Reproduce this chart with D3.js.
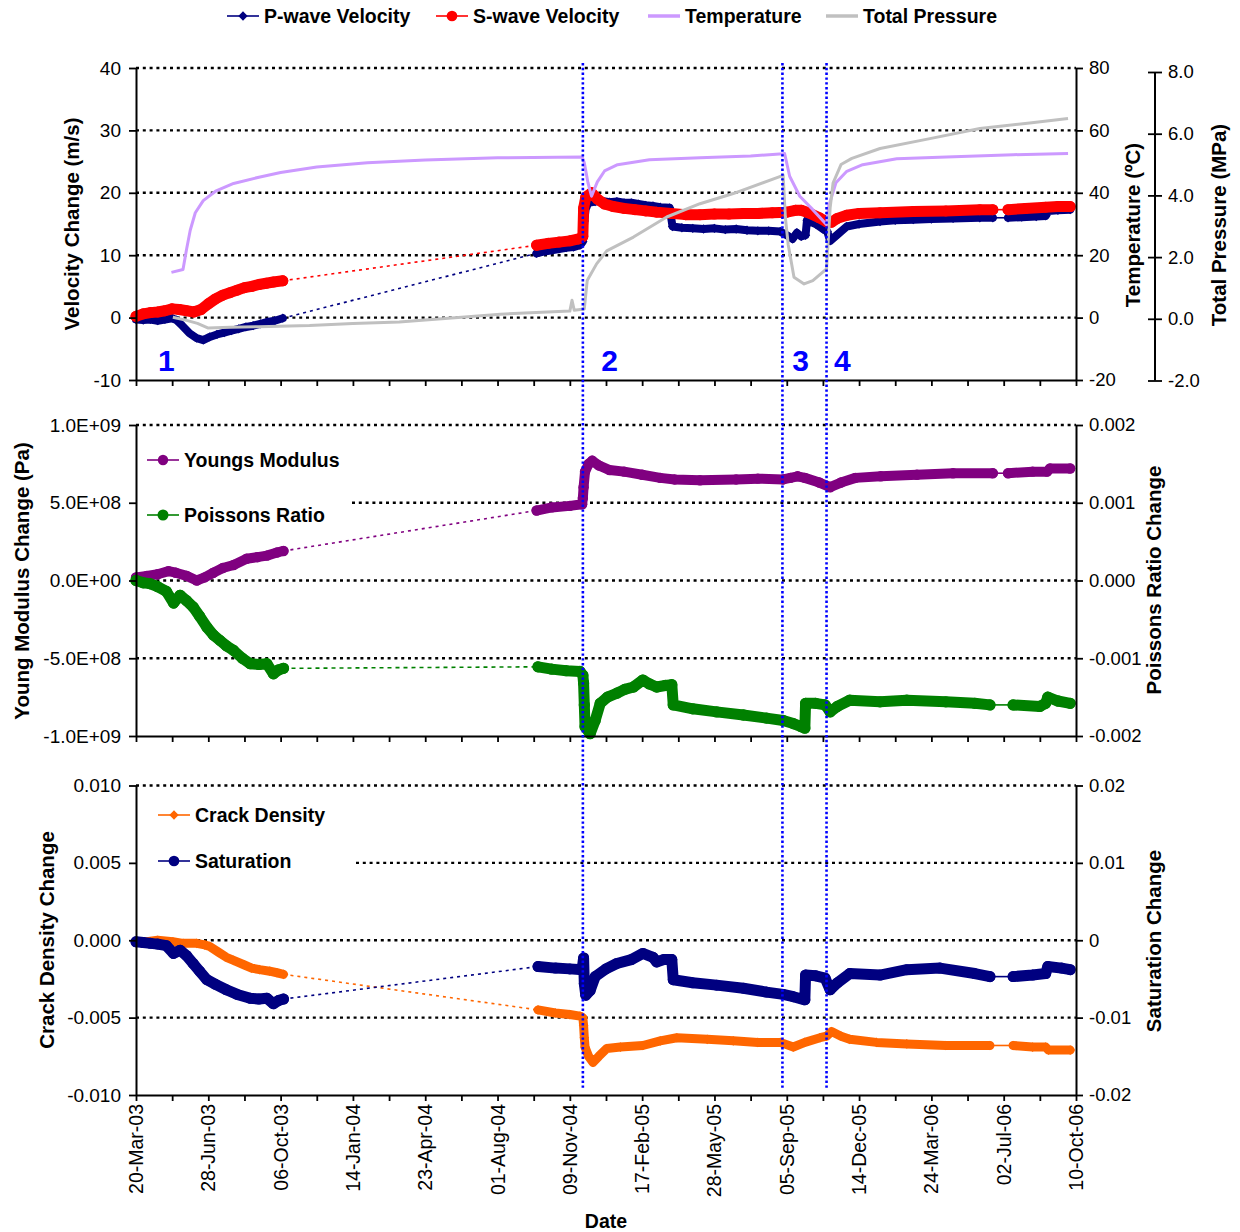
<!DOCTYPE html>
<html>
<head>
<meta charset="utf-8">
<script src="https://cdn.jsdelivr.net/npm/d3@7"></script>
<style>
  body { margin: 0; background: #fff; }
  text { font-family: Arial, "Liberation Sans", sans-serif; fill: #000; }
</style>
</head>
<body>
<svg id="chart" width="1240" height="1232"></svg>
<script>
// ---- data: [days since 20-Mar-03, value] ----
const START = new Date(2003, 2, 20);

const pWaveA = [[0,-0.3],[10,-0.4],[20,-0.3],[30,-0.5],[40,-0.3],[50,-0.1],[56,-0.4],[64,-1.3],[74,-2.5],[84,-3.3],[93,-3.6],[102,-3.1],[112,-2.7],[122,-2.4],[132,-2.1],[142,-1.8],[152,-1.5],[162,-1.3],[172,-1.0],[182,-0.7],[192,-0.5],[203,-0.1]];
const pWaveB = [[554,10.3],[565,10.6],[575,10.8],[585,11.0],[595,11.2],[605,11.3],[614,11.6],[618,12.2],[620,15.5],[622,17.5],[626,18.4],[635,18.6],[645,18.7],[655,18.5],[665,18.6],[675,18.4],[685,18.4],[695,18.2],[705,18.0],[715,17.9],[725,17.7],[738,17.6],[742,14.6],[755,14.4],[770,14.3],[785,14.2],[800,14.3],[815,14.1],[830,14.2],[845,14.0],[860,13.9],[875,13.9],[891,13.8],[900,13.2],[908,12.6],[914,13.6],[920,13.0],[926,13.2],[928,15.6],[940,15.0],[950,14.2],[956,13.8],[960,12.3],[970,13.3],[983,14.6],[1000,15.0],[1029,15.4],[1050,15.6],[1075,15.7],[1100,15.8],[1130,15.9],[1167,16.0],[1185,16.0]];
const pWaveC = [[1206,16.0],[1225,16.1],[1245,16.2],[1258,16.3],[1262,17.1],[1275,17.2],[1292,17.3]];

const sWaveA = [[0,0.2],[10,0.6],[20,0.8],[30,0.9],[40,1.1],[50,1.4],[60,1.3],[70,1.1],[80,0.9],[90,1.3],[100,2.2],[110,3.0],[120,3.6],[130,4.0],[140,4.4],[150,4.8],[160,5.0],[170,5.3],[180,5.5],[190,5.7],[203,5.9]];
const sWaveB = [[554,11.6],[570,11.9],[585,12.1],[600,12.3],[612,12.6],[618,13.0],[619,17.5],[622,19.3],[630,20.0],[638,19.0],[648,18.2],[660,17.8],[675,17.5],[690,17.3],[705,17.1],[720,16.9],[740,16.7],[760,16.5],[780,16.5],[800,16.6],[820,16.6],[840,16.7],[860,16.7],[880,16.8],[900,16.9],[912,17.2],[920,17.2],[930,16.8],[945,16.0],[956,15.3],[962,15.3],[970,15.9],[983,16.4],[1000,16.7],[1029,16.8],[1075,17.0],[1120,17.1],[1167,17.3],[1185,17.3]];
const sWaveC = [[1206,17.3],[1230,17.5],[1258,17.7],[1275,17.8],[1292,17.8]];

const temperature = [[49,14.5],[65,15.4],[70,22],[75,28],[82,33.6],[93,37.5],[110,40.5],[135,43],[170,45],[200,46.5],[250,48.3],[320,49.6],[400,50.5],[500,51.2],[617,51.5],[620,49.6],[625,43.3],[630,38.9],[638,43.5],[648,47],[666,49],[710,50.6],[780,51.2],[850,51.8],[895,52.5],[897,52.6],[904,45.3],[918,38.9],[936,34.6],[955,29.8],[958,35.7],[968,43.2],[983,46.9],[1005,49],[1052,50.9],[1121,51.5],[1213,52.2],[1289,52.6]];

const pressure = [[51,0.05],[70,-0.05],[85,-0.15],[100,-0.3],[130,-0.27],[170,-0.26],[240,-0.22],[300,-0.15],[364,-0.1],[450,0.05],[504,0.15],[600,0.25],[603,0.6],[606,0.28],[620,0.32],[624,1.24],[637,1.78],[651,2.2],[688,2.65],[734,3.3],[780,3.73],[826,4.06],[895,4.65],[898,3.3],[902,2.4],[910,1.35],[924,1.13],[936,1.24],[955,1.62],[958,2.8],[960,3.6],[964,4.4],[975,5.0],[990,5.2],[1029,5.52],[1098,5.84],[1167,6.17],[1236,6.35],[1289,6.49]];

const youngA = [[0,0.02e9],[15,0.03e9],[30,0.04e9],[45,0.06e9],[55,0.05e9],[70,0.03e9],[84,0.0],[95,0.02e9],[107,0.05e9],[120,0.08e9],[135,0.1e9],[153,0.14e9],[168,0.15e9],[181,0.16e9],[195,0.18e9],[204,0.19e9]];
const youngB = [[554,0.45e9],[575,0.47e9],[600,0.48e9],[617,0.49e9],[618,0.53e9],[619,0.6e9],[621,0.7e9],[626,0.75e9],[631,0.77e9],[640,0.74e9],[655,0.71e9],[675,0.70e9],[700,0.68e9],[725,0.66e9],[745,0.65e9],[780,0.645e9],[830,0.65e9],[860,0.655e9],[895,0.65e9],[905,0.66e9],[915,0.67e9],[925,0.66e9],[945,0.63e9],[960,0.6e9],[975,0.63e9],[995,0.66e9],[1030,0.67e9],[1080,0.68e9],[1130,0.69e9],[1185,0.69e9]];
const youngC = [[1206,0.69e9],[1240,0.70e9],[1260,0.70e9],[1264,0.72e9],[1292,0.72e9]];

const poissonA = [[0,0],[10,-0.00003],[19,-0.00004],[30,-0.00008],[42,-0.00014],[52,-0.00029],[61,-0.00019],[70,-0.00026],[79,-0.00034],[88,-0.00046],[98,-0.0006],[107,-0.0007],[116,-0.00077],[125,-0.00084],[135,-0.0009],[147,-0.001],[158,-0.00107],[170,-0.00108],[181,-0.00107],[190,-0.0012],[197,-0.00115],[204,-0.00113]];
const poissonB = [[556,-0.00111],[575,-0.00114],[595,-0.00116],[614,-0.00117],[618,-0.00122],[619,-0.00132],[620,-0.0016],[621,-0.00188],[628,-0.00197],[635,-0.0018],[642,-0.00158],[652,-0.0015],[665,-0.00145],[676,-0.0014],[688,-0.00137],[701,-0.00128],[710,-0.00133],[720,-0.00137],[732,-0.00135],[741,-0.00134],[743,-0.0016],[770,-0.00165],[803,-0.00169],[840,-0.00173],[872,-0.00177],[895,-0.0018],[909,-0.00184],[920,-0.00188],[925,-0.0019],[926,-0.00158],[940,-0.00158],[953,-0.0016],[960,-0.00169],[970,-0.00162],[987,-0.00154],[1029,-0.00156],[1066,-0.00154],[1120,-0.00156],[1160,-0.00158],[1181,-0.0016]];
const poissonC = [[1213,-0.0016],[1250,-0.00162],[1258,-0.00158],[1261,-0.0015],[1275,-0.00155],[1292,-0.00158]];

const crackA = [[0,-0.0001],[15,-0.0001],[30,0.0],[51,-0.0001],[65,-0.0002],[84,-0.0002],[95,-0.0003],[102,-0.0004],[115,-0.0008],[125,-0.0011],[135,-0.0013],[150,-0.0016],[160,-0.0018],[171,-0.0019],[185,-0.002],[195,-0.0021],[204,-0.0022]];
const crackB = [[556,-0.0045],[580,-0.0047],[600,-0.0048],[614,-0.0049],[618,-0.005],[619,-0.0055],[620,-0.0063],[621,-0.0069],[626,-0.0075],[632,-0.0079],[640,-0.0075],[651,-0.007],[670,-0.0069],[701,-0.0068],[725,-0.0065],[748,-0.0063],[790,-0.0064],[826,-0.0065],[860,-0.0066],[891,-0.0066],[909,-0.0069],[925,-0.0066],[946,-0.0063],[955,-0.0062],[962,-0.0059],[975,-0.0062],[987,-0.0064],[1024,-0.0066],[1066,-0.0067],[1120,-0.0068],[1181,-0.0068]];
const crackC = [[1213,-0.0068],[1240,-0.0069],[1258,-0.0069],[1262,-0.0071],[1292,-0.0071]];

const satA = [[0,-0.0002],[10,-0.0003],[20,-0.0004],[30,-0.0005],[42,-0.0007],[52,-0.0017],[61,-0.0013],[70,-0.002],[79,-0.003],[88,-0.004],[98,-0.0051],[110,-0.0057],[125,-0.0064],[140,-0.007],[158,-0.0075],[170,-0.0076],[181,-0.0075],[190,-0.0082],[197,-0.0078],[204,-0.0076]];
const satB = [[556,-0.0034],[580,-0.0036],[600,-0.0037],[617,-0.0038],[619,-0.0023],[620,-0.0056],[622,-0.0071],[628,-0.0065],[635,-0.0047],[650,-0.0037],[665,-0.003],[685,-0.0025],[701,-0.0017],[715,-0.0022],[720,-0.0028],[730,-0.0025],[741,-0.0025],[743,-0.0051],[770,-0.0055],[803,-0.0058],[840,-0.0062],[872,-0.0067],[895,-0.007],[909,-0.0073],[925,-0.0077],[926,-0.0045],[940,-0.0046],[953,-0.0049],[960,-0.0064],[970,-0.0055],[987,-0.0043],[1029,-0.0045],[1066,-0.0038],[1112,-0.0036],[1160,-0.0043],[1181,-0.0047]];
const satC = [[1213,-0.0047],[1240,-0.0045],[1258,-0.0043],[1261,-0.0034],[1280,-0.0036],[1292,-0.0038]];

// event markers (days) and their labels
const eventDays = [618, 894, 955];
const eventLabels = [["1", 42], ["2", 655], ["3", 919], ["4", 977]];

// tick values
const velTicks = [-10, 0, 10, 20, 30, 40];
const tempTicks = [-20, 0, 20, 40, 60, 80];
const presTicks = [-2, 0, 2, 4, 6, 8];
const youngTicks = [-1e9, -5e8, 0, 5e8, 1e9];
const poisTicks = [-0.002, -0.001, 0, 0.001, 0.002];
const crackTicks = [-0.01, -0.005, 0, 0.005, 0.01];
const satTicks = [-0.02, -0.01, 0, 0.01, 0.02];
const dateTickDays = d3.range(0, 1301, 100);
const minorTickDays = d3.range(0, 1301, 50);

// plain hyphen for negative numbers, as in the original
d3.formatDefaultLocale({ decimal: ".", thousands: ",", grouping: [3], currency: ["$", ""], minus: "-" });

// ---- setup ----
const svg = d3.select("#chart");
const day = d => d3.timeDay.offset(START, d);
const x = d3.scaleTime().domain([START, day(1300)]).range([136, 1076]);
const X0 = 136, X1 = 1076;

const yVel = d3.scaleLinear().domain([-10, 40]).range([380, 68]);
const yTemp = d3.scaleLinear().domain([-20, 80]).range([380, 68]);
const yPres = d3.scaleLinear().domain([-2, 8]).range([380.5, 72]);
const yYoung = d3.scaleLinear().domain([-1e9, 1e9]).range([736, 425]);
const yPois = d3.scaleLinear().domain([-0.002, 0.002]).range([736, 425]);
const yCrack = d3.scaleLinear().domain([-0.01, 0.01]).range([1095, 785.5]);
const ySat = d3.scaleLinear().domain([-0.02, 0.02]).range([1095, 785.5]);

const NAVY = "#000080", RED = "#ff0000", LAV = "#cc99ff", GRAY = "#c0c0c0";
const PURPLE = "#800080", GREEN = "#008000", ORANGE = "#ff6600", BLUE = "#0000ff";

function grid(yS, vals, fromX) {
  svg.append("g").selectAll("line").data(vals).join("line")
    .attr("x1", fromX || X0).attr("x2", X1)
    .attr("y1", d => yS(d)).attr("y2", d => yS(d))
    .attr("stroke", "#000").attr("stroke-width", 2.4)
    .attr("stroke-dasharray", "3,3.8");
}

function styleAxis(g, fs) {
  g.select(".domain").attr("stroke", "#000").attr("stroke-width", 2);
  g.selectAll(".tick line").attr("stroke", "#000").attr("stroke-width", 1.8);
  g.selectAll("text").style("font-size", fs + "px").attr("fill", "#000");
}

function leftAxis(yS, vals, fmt) {
  const g = svg.append("g").attr("transform", `translate(${X0},0)`)
    .call(d3.axisLeft(yS).tickValues(vals).tickSize(7).tickSizeOuter(0).tickPadding(8).tickFormat(fmt));
  styleAxis(g, 19);
}

function rightAxis(yS, vals, fmt, xPos) {
  const g = svg.append("g").attr("transform", `translate(${xPos},0)`)
    .call(d3.axisRight(yS).tickValues(vals).tickSize(7).tickSizeOuter(0).tickPadding(6).tickFormat(fmt));
  styleAxis(g, 18.5);
  return g;
}

function bottomAxis(yPos) {
  const g = svg.append("g").attr("transform", `translate(0,${yPos})`)
    .call(d3.axisBottom(x).tickValues(minorTickDays.map(day)).tickSize(6).tickSizeOuter(0).tickFormat(""));
  styleAxis(g, 19);
}

function title(txt, bx, cy) {
  svg.append("text").attr("transform", `translate(${bx},${cy}) rotate(-90)`)
    .attr("text-anchor", "middle").style("font-size", "20.5px").style("font-weight", "bold").text(txt);
}

function series(segs, yS, o) {
  const line = d3.line().x(d => x(day(d[0]))).y(d => yS(d[1]));
  const g = svg.append("g");
  for (let i = 0; i < segs.length - 1; i++) {
    const a = segs[i][segs[i].length - 1], b = segs[i + 1][0];
    g.append("path").attr("d", line([a, b])).attr("fill", "none")
      .attr("stroke", o.color).attr("stroke-width", 1.6)
      .attr("stroke-dasharray", i === 0 ? o.gapDash : null);
  }
  segs.forEach(seg => {
    g.append("path").attr("d", line(seg)).attr("fill", "none")
      .attr("stroke", o.color).attr("stroke-width", o.band)
      .attr("stroke-linejoin", "round").attr("stroke-linecap", "round");
    g.append("g").selectAll("path").data(seg).join("path")
      .attr("transform", d => `translate(${x(day(d[0]))},${yS(d[1])})`)
      .attr("d", d3.symbol(o.symbol, o.size)).attr("fill", o.color);
  });
}

function plainLine(data, yS, color) {
  const line = d3.line().x(d => x(day(d[0]))).y(d => yS(d[1]));
  svg.append("path").attr("d", line(data)).attr("fill", "none")
    .attr("stroke", color).attr("stroke-width", 3).attr("stroke-linejoin", "round");
}

function legendItem(lx, ly, color, symbol, size, label, lineW, fs) {
  const g = svg.append("g");
  g.append("line").attr("x1", lx).attr("x2", lx + 32).attr("y1", ly).attr("y2", ly)
    .attr("stroke", color).attr("stroke-width", lineW);
  if (symbol) {
    g.append("path").attr("transform", `translate(${lx + 16},${ly})`)
      .attr("d", d3.symbol(symbol, size)).attr("fill", color);
  }
  g.append("text").attr("x", lx + 37).attr("y", ly + 7)
    .style("font-size", fs + "px").style("font-weight", "bold").text(label);
}

// ---- panel 1: velocities, temperature, pressure ----
grid(yVel, [0, 10, 20, 30, 40]);
series([pWaveA, pWaveB, pWaveC], yVel, { color: NAVY, band: 8, symbol: d3.symbolDiamond2, size: 55, gapDash: "3,4" });
series([sWaveA, sWaveB, sWaveC], yVel, { color: RED, band: 11, symbol: d3.symbolCircle, size: 95, gapDash: "3,4" });
plainLine(temperature, yTemp, LAV);
plainLine(pressure, yPres, GRAY);
leftAxis(yVel, velTicks, d3.format("d"));
rightAxis(yTemp, tempTicks, d3.format("d"), X1);
const pg = rightAxis(yPres, presTicks, d3.format(".1f"), 1155);
pg.selectAll(".tick line").attr("x1", -7);
pg.select(".domain").attr("d", `M0,${yPres(8)}V${yPres(-2)}`);
bottomAxis(380);
title("Velocity Change (m/s)", 79, 224);
title("Temperature (ºC)", 1140, 225);
title("Total Pressure (MPa)", 1226, 225);

// ---- panel 2: Young's modulus, Poisson's ratio ----
grid(yYoung, [1e9, 0, -5e8]);
grid(yYoung, [5e8], 352);
series([youngA, youngB, youngC], yYoung, { color: PURPLE, band: 10, symbol: d3.symbolCircle, size: 85, gapDash: "3,4" });
series([poissonA, poissonB, poissonC], yPois, { color: GREEN, band: 11, symbol: d3.symbolCircle, size: 100, gapDash: "4,4" });
leftAxis(yYoung, youngTicks, d => d3.format(".1e")(d).replace("e", "E").replace(/E([+-])(\d)$/, "E$10$2"));
rightAxis(yPois, poisTicks, d3.format(".3f"), X1);
bottomAxis(736);
title("Young Modulus Change (Pa)", 29, 581);
title("Poissons Ratio Change", 1161, 580);
legendItem(147, 460, PURPLE, d3.symbolCircle, 85, "Youngs Modulus", 1.6, 19.5);
legendItem(147, 515, GREEN, d3.symbolCircle, 95, "Poissons Ratio", 1.6, 19.5);

// ---- panel 3: crack density, saturation ----
grid(yCrack, [0.01, 0, -0.005]);
grid(yCrack, [0.005], 356);
series([crackA, crackB, crackC], yCrack, { color: ORANGE, band: 9, symbol: d3.symbolDiamond2, size: 60, gapDash: "3,4" });
series([satA, satB, satC], ySat, { color: NAVY, band: 11, symbol: d3.symbolCircle, size: 95, gapDash: "3,4" });
leftAxis(yCrack, crackTicks, d3.format(".3f"));
rightAxis(ySat, satTicks, d => d === 0 ? "0" : d3.format(".2f")(d), X1);
bottomAxis(1095);
title("Crack Density Change", 54, 940);
title("Saturation Change", 1161, 941);
legendItem(158, 815, ORANGE, d3.symbolDiamond2, 55, "Crack Density", 1.6, 19.5);
legendItem(158, 861, NAVY, d3.symbolCircle, 90, "Saturation", 1.6, 19.5);

// date labels
svg.append("g").selectAll("text").data(dateTickDays).join("text")
  .attr("transform", d => `translate(${x(day(d)) + 7},1104) rotate(-90)`)
  .attr("text-anchor", "end").style("font-size", "19.5px")
  .text(d => d3.timeFormat("%d-%b-%y")(day(d)));
svg.append("text").attr("x", 606).attr("y", 1228).attr("text-anchor", "middle")
  .style("font-size", "19.5px").style("font-weight", "bold").text("Date");

// event lines and numbers
svg.append("g").selectAll("line").data(eventDays).join("line")
  .attr("x1", d => x(day(d))).attr("x2", d => x(day(d)))
  .attr("y1", 63).attr("y2", 1090)
  .attr("stroke", BLUE).attr("stroke-width", 2.6).attr("stroke-dasharray", "2.4,2.4");
svg.append("g").selectAll("text").data(eventLabels).join("text")
  .attr("x", d => x(day(d[1]))).attr("y", 371).attr("text-anchor", "middle")
  .style("font-size", "30px").style("font-weight", "bold")
  .style("fill", BLUE).text(d => d[0]);

// top legend
legendItem(227, 16, NAVY, d3.symbolDiamond2, 55, "P-wave Velocity", 1.6, 19.5);
legendItem(436, 16, RED, d3.symbolCircle, 90, "S-wave Velocity", 1.6, 19.5);
legendItem(648, 16, LAV, null, 0, "Temperature", 3.5, 19.5);
legendItem(826, 16, GRAY, null, 0, "Total Pressure", 3.5, 19.5);
</script>
</body>
</html>
